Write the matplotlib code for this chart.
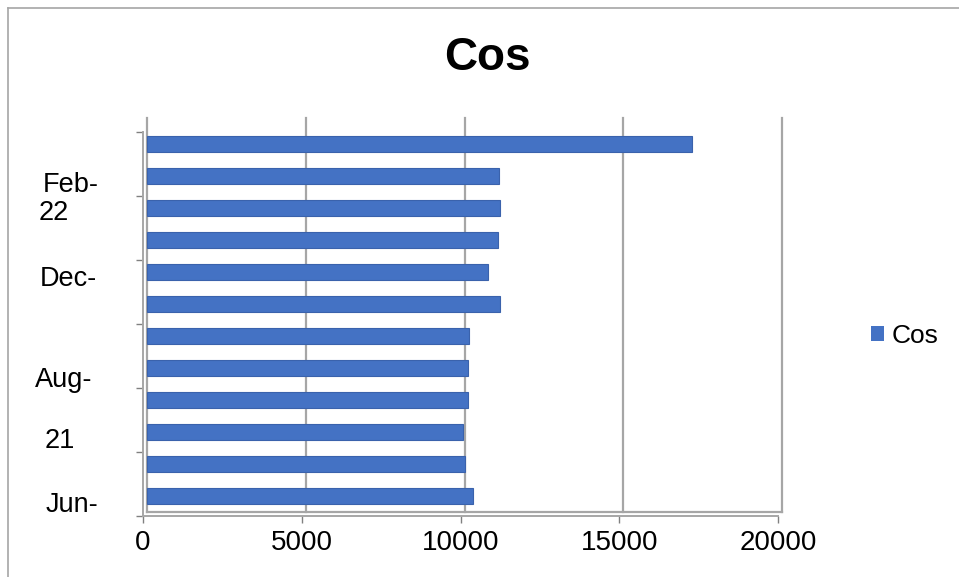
import numpy as np
import matplotlib.pyplot as plt
from matplotlib.lines import Line2D
from matplotlib.patches import Patch
import matplotlib.transforms as mtransforms

plt.rcParams['font.family'] = ['Liberation Sans', 'DejaVu Sans']

# data (bottom to top)
months = ['Jun-21', 'Jul-21', 'Aug-21', 'Sep-21', 'Oct-21', 'Nov-21',
          'Dec-21', 'Jan-22', 'Feb-22', 'Mar-22', 'Apr-22', 'May-22']
cos_values = [10270, 10020, 9950, 10110, 10110, 10140,
              11120, 10740, 11050, 11120, 11090, 17170]
x_ticks = [0, 5000, 10000, 15000, 20000]
# the wrapped / clipped category labels as they show up on the axis
y_label_text = ['Jun-', '21', 'Aug-', 'Dec-', '22', 'Feb-']
y_label_pos = [-0.15, 1.84, 3.75, 6.9, 8.97, 9.84]
y_label_x = [72, 60, 64, 68, 54, 71]   # pixel centres

W, H = 959, 577
fig = plt.figure(figsize=(W / 100, H / 100), dpi=100)
ax = fig.add_axes([143 / W, 1 - 516 / H, (778 - 143) / W, (516 - 132) / H])

# 3d depth offset of the back wall
shift = mtransforms.ScaledTranslation(4 / 100, 4 / 100, fig.dpi_scale_trans)

bar_col = '#4472C4'
y = np.arange(len(months))
bars = ax.barh(y, cos_values, height=0.53, color=bar_col, edgecolor='#3A62AC',
               linewidth=0.8, zorder=3)
for b in bars:
    b.set_transform(ax.transData + shift)

for v in x_ticks:
    ax.plot([v, v], [-0.5, 11.8], color='#A6A6A6', lw=1.6, zorder=1,
            transform=ax.transData + shift, clip_on=False)
ax.plot([0, 20000], [-0.5, -0.5], color='#A6A6A6', lw=1.6, zorder=1,
        transform=ax.transData + shift, clip_on=False)

ax.set_xlim(0, 20000)
ax.set_ylim(-0.5, 11.5)
ax.set_xticks(x_ticks)
ax.set_xticklabels([str(v) for v in x_ticks], fontsize=20)
ax.set_yticks(np.arange(-0.5, 12, 2))
ax.set_yticklabels([])
ax.tick_params(axis='both', color='#808080', length=5, width=1)
ax.tick_params(axis='x', pad=5)
for s in ['top', 'right']:
    ax.spines[s].set_visible(False)
for s in ['left', 'bottom']:
    ax.spines[s].set_color('#A6A6A6')
    ax.spines[s].set_linewidth(1.4)

for txt, pos, px in zip(y_label_text, y_label_pos, y_label_x):
    ax.text(px / W, pos, txt, fontsize=19.5, ha='center', va='center',
            transform=mtransforms.blended_transform_factory(fig.transFigure, ax.transData))

fig.text(487 / W, 1 - 58 / H, 'Cos', fontsize=33, fontweight='bold',
         ha='center', va='center')

fig.legend(handles=[Patch(facecolor=bar_col, edgecolor='none', label='Cos')],
           loc='center left', bbox_to_anchor=(858 / W, 1 - 336 / H),
           frameon=False, fontsize=19, handlelength=0.48, handleheight=0.48,
           handletextpad=0.28, borderpad=0.2, borderaxespad=0.3)

# chart area border
fig.add_artist(Line2D([8 / W, 8 / W], [0, 1 - 8 / H], color='#A6A6A6', lw=1.2,
                      transform=fig.transFigure))
fig.add_artist(Line2D([8 / W, 1], [1 - 8 / H, 1 - 8 / H], color='#A6A6A6', lw=1.2,
                      transform=fig.transFigure))

fig.savefig('out.png', dpi=100)
